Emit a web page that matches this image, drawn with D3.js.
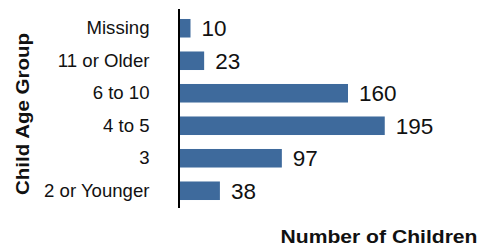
<!DOCTYPE html>
<html>
<head>
<meta charset="utf-8">
<script src="https://cdn.jsdelivr.net/npm/d3@7"></script>
<style>
  html, body { margin: 0; padding: 0; background: #fff; }
  svg { display: block; font-family: "Liberation Sans", Arial, Helvetica, sans-serif; }
</style>
</head>
<body>
<div id="chart"></div>
<script>
var categories = ["Missing", "11 or Older", "6 to 10", "4 to 5", "3", "2 or Younger"];
var counts = [10, 23, 160, 195, 97, 38];
var xDomain = [0, 200];

var width = 479, height = 247;

var svg = d3.select("#chart").append("svg")
    .attr("width", width)
    .attr("height", height);

var x = d3.scaleLinear().domain(xDomain).range([180, 390]);
var y = d3.scaleBand().domain(categories).range([12, 207])
    .paddingInner(0.43).paddingOuter(0.215);

var data = categories.map(function(c, i) { return { cat: c, value: counts[i] }; });

// bars
svg.append("g").selectAll("rect")
    .data(data)
    .enter().append("rect")
    .attr("x", x(0))
    .attr("y", function(d) { return y(d.cat); })
    .attr("width", function(d) { return x(d.value) - x(0); })
    .attr("height", y.bandwidth())
    .attr("fill", "#3e6a9c");

// value labels
svg.append("g").selectAll("text")
    .data(data)
    .enter().append("text")
    .attr("x", function(d) { return x(d.value) + 11; })
    .attr("y", function(d) { return y(d.cat) + y.bandwidth() / 2 + 8; })
    .attr("font-size", "22.5px")
    .style("fill", "#111")
    .text(function(d) { return d.value; });

// category labels (axis without line)
var yAxis = svg.append("g")
    .attr("transform", "translate(179,0)")
    .call(d3.axisLeft(y).tickSize(0).tickPadding(29.5));
yAxis.select(".domain").remove();
yAxis.selectAll("text")
    .attr("font-size", "18.6px")
    .attr("font-family", "Liberation Sans, Arial, sans-serif")
    .attr("dy", "0.32em")
    .style("fill", "#111");

// vertical axis line
svg.append("line")
    .attr("x1", 179).attr("x2", 179)
    .attr("y1", 9).attr("y2", 208)
    .attr("stroke", "#000")
    .style("stroke-width", 2);

// axis titles
svg.append("text")
    .attr("transform", "translate(28.5,114) rotate(-90)")
    .attr("text-anchor", "middle")
    .attr("font-size", "18.6px")
    .attr("font-weight", "bold")
    .attr("textLength", 162)
    .attr("lengthAdjust", "spacingAndGlyphs")
    .style("fill", "#111")
    .text("Child Age Group");

svg.append("text")
    .attr("x", 280.5)
    .attr("y", 243.3)
    .attr("font-size", "18.6px")
    .attr("font-weight", "bold")
    .attr("textLength", 197)
    .attr("lengthAdjust", "spacingAndGlyphs")
    .style("fill", "#111")
    .text("Number of Children");
</script>
</body>
</html>
